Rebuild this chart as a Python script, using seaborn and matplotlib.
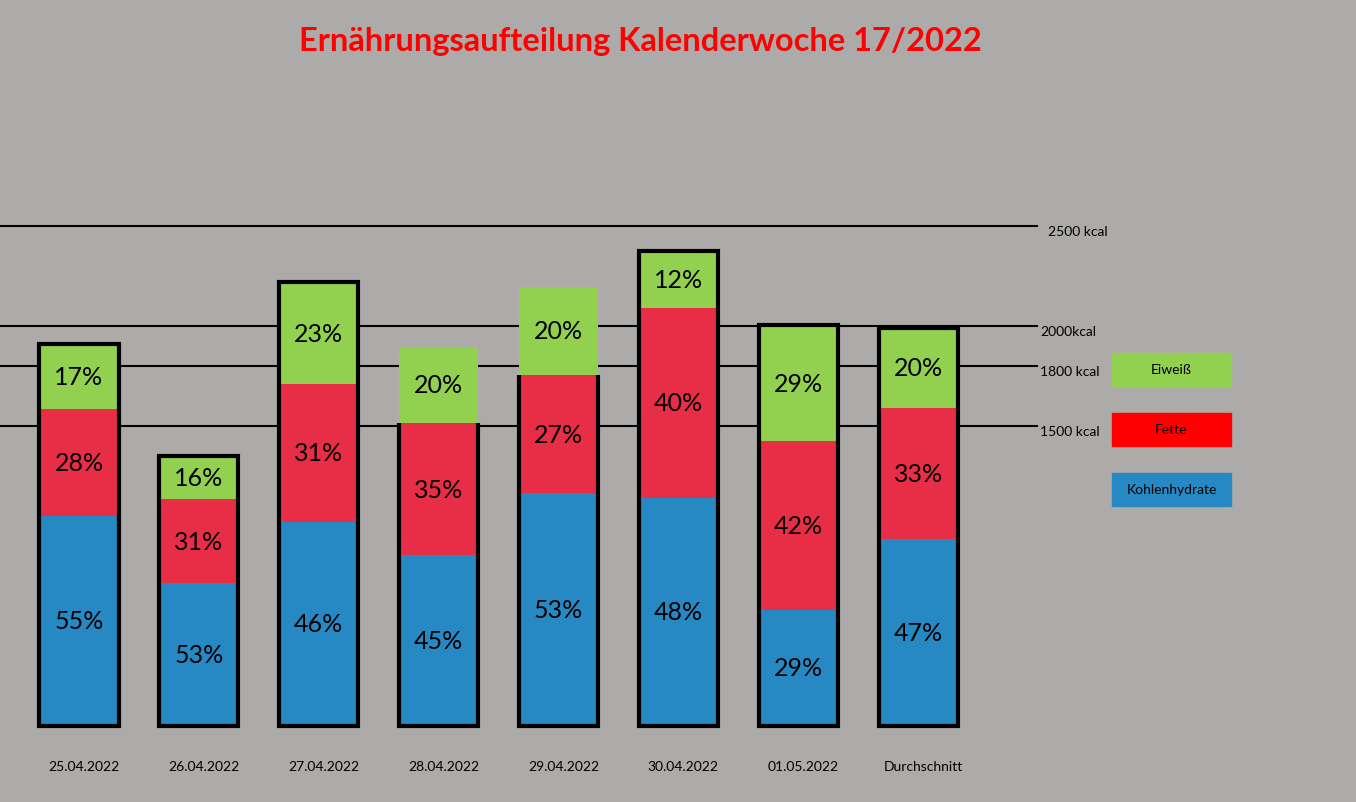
import numpy as np
import pandas as pd
import matplotlib
matplotlib.use("Agg")
import matplotlib.pyplot as plt
import seaborn as sns
from matplotlib.patches import Rectangle

# Data
dates = ["25.04.2022", "26.04.2022", "27.04.2022", "28.04.2022",
         "29.04.2022", "30.04.2022", "01.05.2022", "Durchschnitt"]
total_kcal = [1910, 1350, 2220, 1895, 2195, 2375, 2005, 1990]
carbs_pct = [55, 53, 46, 45, 53, 48, 29, 47]
fat_pct = [28, 31, 31, 35, 27, 40, 42, 33]
protein_pct = [17, 16, 23, 20, 20, 12, 29, 20]
# bars 28.04 and 29.04 have an open frame around carbs + fat only
frame_full = [True, True, True, False, False, True, True, True]

ref_kcal = [2500, 2000, 1800, 1500]
ref_labels = ["2500 kcal", "2000kcal", "1800 kcal", "1500 kcal"]

legend_names = ["Eiweiß", "Fette", "Kohlenhydrate"]

# Colours
bg = "#ADABA9"
green = "#92D050"
red = "#E82E46"
blue = "#2789C3"
legend_colors = [green, "#FF0000", blue]

df = pd.DataFrame({
    "date": dates,
    "total": total_kcal,
    "carbs": np.array(total_kcal) * np.array(carbs_pct) / 100,
    "fat": np.array(total_kcal) * np.array(fat_pct) / 100,
    "protein": np.array(total_kcal) * np.array(protein_pct) / 100,
})
df["carbs_fat"] = df["carbs"] + df["fat"]
df["frame"] = np.where(frame_full, df["total"], np.nan)

plt.rcParams["font.family"] = ["Lato", "DejaVu Sans"]

fig = plt.figure(figsize=(13.56, 8.03), dpi=100, facecolor=bg)
ax = fig.add_axes([0, 0, 1, 1])
ax.set_facecolor(bg)

# reference lines behind the bars
for k in ref_kcal:
    ax.axhline(k, xmin=0, xmax=0.765, color="black", linewidth=1.5, zorder=1)

bar_w = 0.66
# stacked bars drawn back to front
sns.barplot(data=df, x="date", y="total", order=dates, color=green,
            saturation=1, width=bar_w, linewidth=0, errorbar=None, ax=ax, zorder=2)
sns.barplot(data=df, x="date", y="carbs_fat", order=dates, color=red,
            saturation=1, width=bar_w, linewidth=0, errorbar=None, ax=ax, zorder=3)
sns.barplot(data=df, x="date", y="carbs", order=dates, color=blue,
            saturation=1, width=bar_w, linewidth=0, errorbar=None, ax=ax, zorder=4)
sns.barplot(data=df, x="date", y="frame", order=dates, color="black", fill=False,
            width=bar_w, linewidth=3, errorbar=None, ax=ax, zorder=5)

# open frames: sides and bottom around carbs + fat
for i, row in df.iterrows():
    if not frame_full[i]:
        left, right = i - bar_w / 2, i + bar_w / 2
        ax.plot([left, left, right, right],
                [row["carbs_fat"], 0, 0, row["carbs_fat"]],
                color="black", linewidth=3, solid_joinstyle="miter",
                solid_capstyle="butt", zorder=5)

# percentage labels
for i, row in df.iterrows():
    ax.text(i, row["carbs"] / 2, f"{carbs_pct[i]}%", ha="center", va="center",
            fontsize=18, color="black", zorder=6)
    ax.text(i, row["carbs"] + row["fat"] / 2, f"{fat_pct[i]}%", ha="center",
            va="center", fontsize=18, color="black", zorder=6)
    ax.text(i, row["carbs_fat"] + row["protein"] / 2, f"{protein_pct[i]}%",
            ha="center", va="center", fontsize=18, color="black", zorder=6)
    ax.text(i + 0.04, -200, dates[i], ha="center", va="center", fontsize=10,
            color="black")

# kcal labels at the right end of the lines
for k, lab in zip(ref_kcal, ref_labels):
    x0 = 1048 / 1356 if k == 2500 else 1040 / 1356
    ax.text(x0, k - 25, lab, transform=ax.get_yaxis_transform(),
            ha="left", va="center", fontsize=10, color="black")

# legend boxes
for j, (name, c) in enumerate(zip(legend_names, legend_colors)):
    y_top = [354, 414, 474][j]
    fig.patches.append(Rectangle((1112 / 1356, 1 - (y_top + 33) / 803),
                                 119 / 1356, 33 / 803, color=c,
                                 transform=fig.transFigure, figure=fig))
    fig.text((1112 + 59.5) / 1356, 1 - (y_top + 16.5) / 803, name,
             ha="center", va="center", fontsize=10, color="black")

fig.text(640 / 1356, 1 - 42 / 803, "Ernährungsaufteilung Kalenderwoche 17/2022",
         ha="center", va="center", fontsize=23.5, fontweight="bold", color="#FF0000")

# map kcal / bar index to the picture's pixel layout
ax.set_ylim(-380, 3635)
spacing = 119.9
ax.set_xlim(-79 / spacing, (1356 - 79) / spacing)
ax.axis("off")

fig.savefig("out.png", dpi=100, facecolor=bg)
